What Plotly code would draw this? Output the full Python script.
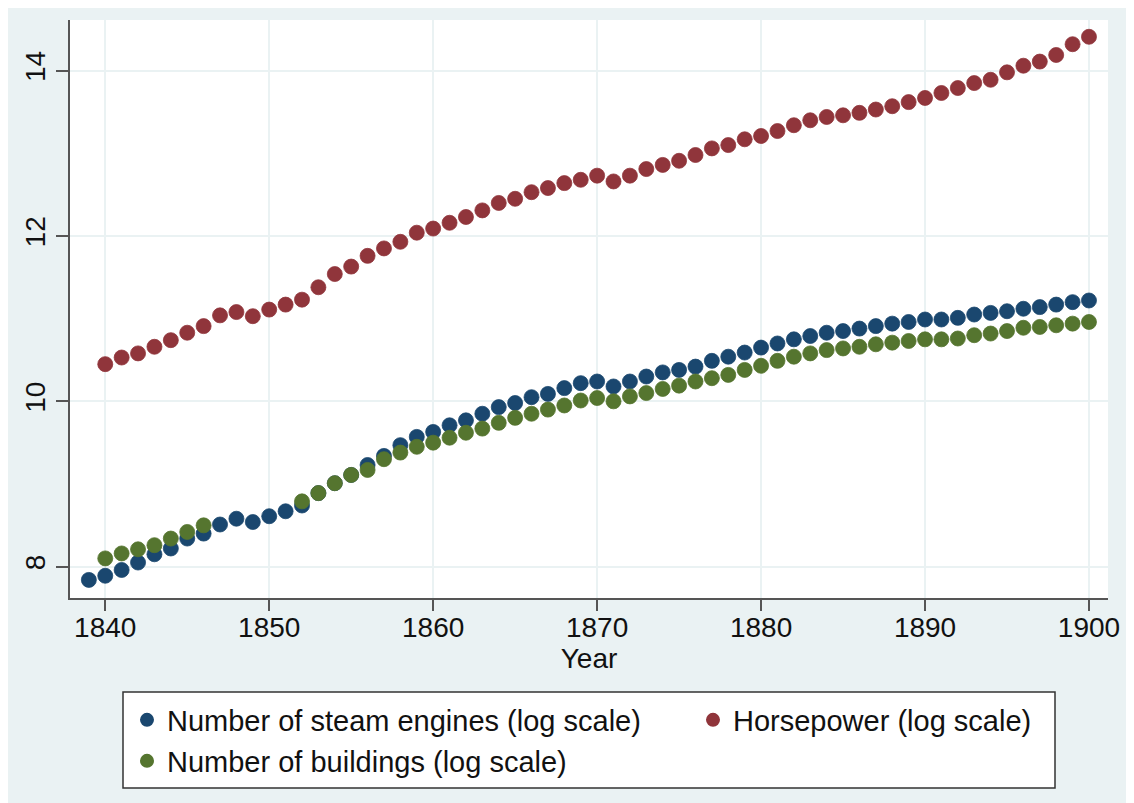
import plotly.graph_objects as go

years = list(range(1839, 1901))

steam_engines = [
    7.84,
    7.89, 7.96, 8.05, 8.15, 8.22, 8.34, 8.40, 8.51, 8.58, 8.54,
    8.61, 8.67, 8.74, 8.89, 9.01, 9.11, 9.23, 9.34, 9.47, 9.57,
    9.63, 9.71, 9.77, 9.85, 9.93, 9.98, 10.05, 10.09, 10.16, 10.22,
    10.24, 10.18, 10.24, 10.30, 10.35, 10.38, 10.42, 10.49, 10.54, 10.59,
    10.65, 10.70, 10.75, 10.79, 10.83, 10.85, 10.88, 10.91, 10.94, 10.96,
    10.99, 10.99, 11.01, 11.05, 11.07, 11.09, 11.12, 11.14, 11.17, 11.20,
    11.22,
]

horsepower = [
    None,
    10.45, 10.53, 10.58, 10.66, 10.74, 10.83, 10.91, 11.04, 11.08, 11.03,
    11.11, 11.17, 11.23, 11.38, 11.54, 11.63, 11.76, 11.85, 11.93, 12.04,
    12.09, 12.16, 12.23, 12.31, 12.40, 12.45, 12.53, 12.58, 12.64, 12.68,
    12.73, 12.66, 12.73, 12.81, 12.86, 12.91, 12.98, 13.06, 13.10, 13.17,
    13.21, 13.27, 13.34, 13.40, 13.44, 13.46, 13.49, 13.53, 13.57, 13.62,
    13.67, 13.73, 13.79, 13.85, 13.89, 13.98, 14.06, 14.11, 14.19, 14.32,
    14.41,
]

buildings = [
    None,
    8.10, 8.16, 8.21, 8.26, 8.34, 8.42, 8.50, None, None, None,
    None, None, 8.79, 8.89, 9.01, 9.11, 9.17, 9.30, 9.38, 9.45,
    9.50, 9.56, 9.62, 9.67, 9.74, 9.80, 9.85, 9.90, 9.95, 10.01,
    10.04, 10.00, 10.06, 10.10, 10.15, 10.19, 10.24, 10.28, 10.32, 10.38,
    10.43, 10.49, 10.54, 10.58, 10.62, 10.64, 10.66, 10.69, 10.71, 10.73,
    10.75, 10.75, 10.76, 10.80, 10.82, 10.85, 10.89, 10.90, 10.92, 10.94,
    10.96,
]

series_names = [
    "Number of steam engines (log scale)",
    "Horsepower (log scale)",
    "Number of buildings (log scale)",
]
series_colors = ["#1A476F", "#90353B", "#55752F"]
x_ticks = [1840, 1850, 1860, 1870, 1880, 1890, 1900]
y_ticks = [8, 10, 12, 14]

FONT = "Liberation Sans, Arial, sans-serif"
BG = "#EAF2F3"
W, H = 1134, 803
OFF = 8  # page body margin offset of the figure in the screenshot
ML, MR, MT, MB = 62, 34, 12, 213
PW, PH = W - ML - MR, H - MT - MB


def px_to_paper_x(px):
    return (px - OFF - ML) / PW


def px_to_paper_y(py):
    return (H - MB - (py - OFF)) / PH


fig = go.Figure()
legend_ids = ["legend", "legend2", "legend3"]
for name, vals, col, lid in zip(series_names, [steam_engines, horsepower, buildings],
                                series_colors, legend_ids):
    fig.add_trace(go.Scatter(
        x=years, y=vals, mode="markers", name=name, legend=lid,
        marker=dict(size=15, color=col, line=dict(width=0.8, color=col)),
    ))

leg_common = dict(
    orientation="v", xanchor="left", yanchor="middle",
    bgcolor="rgba(0,0,0,0)", borderwidth=0,
    font=dict(family=FONT, size=29, color="#111111"),
    itemsizing="constant",
)

fig.update_layout(
    width=W, height=H,
    margin=dict(l=ML, r=MR, t=MT, b=MB, autoexpand=False),
    paper_bgcolor=BG, plot_bgcolor="white",
    font=dict(family=FONT, size=28, color="#111111"),
    showlegend=True,
    legend=dict(x=px_to_paper_x(127), y=px_to_paper_y(720), **leg_common),
    legend2=dict(x=px_to_paper_x(693), y=px_to_paper_y(720), **leg_common),
    legend3=dict(x=px_to_paper_x(127), y=px_to_paper_y(761), **leg_common),
    shapes=[dict(
        type="rect", xref="paper", yref="paper", layer="below",
        x0=px_to_paper_x(123), x1=px_to_paper_x(1055),
        y0=px_to_paper_y(788), y1=px_to_paper_y(692),
        fillcolor="white", line=dict(color="#333333", width=1.5),
    )],
    xaxis=dict(
        range=[1837.85, 1901.16],
        tickmode="array", tickvals=x_ticks,
        ticks="outside", ticklen=11, tickwidth=1.5, tickcolor="#555555",
        ticklabelstandoff=-8,
        showline=True, linecolor="#555555", linewidth=2,
        showgrid=True, gridcolor=BG, gridwidth=1.5,
        zeroline=False,
        title=dict(text="Year", standoff=0, font=dict(size=28)),
    ),
    yaxis=dict(
        range=[7.621, 14.613],
        tickmode="array", tickvals=y_ticks,
        ticks="outside", ticklen=12, tickwidth=1.5, tickcolor="#555555",
        tickangle=-90,
        showline=True, linecolor="#555555", linewidth=2,
        showgrid=True, gridcolor=BG, gridwidth=1.5,
        zeroline=False,
    ),
)

fig.write_html("out.html")
